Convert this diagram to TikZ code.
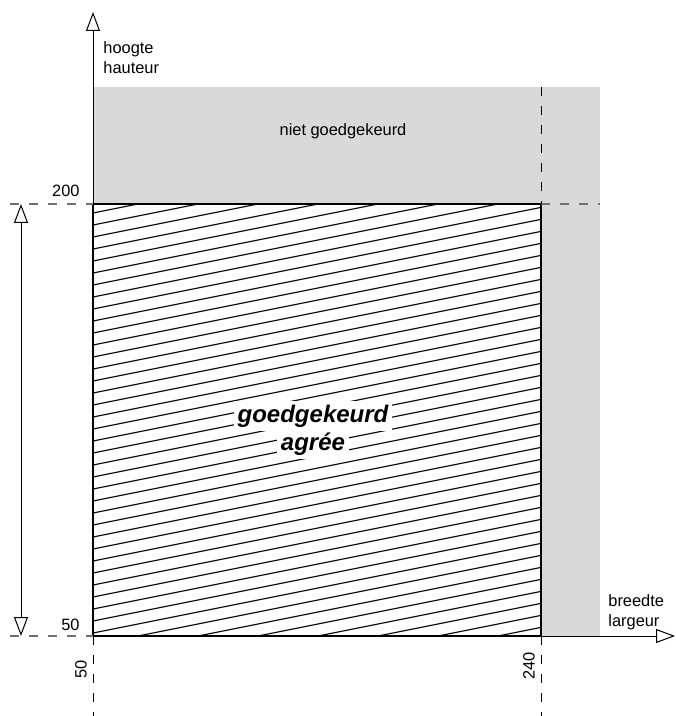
\documentclass[tikz,border=0pt]{standalone}
\usepackage{fontspec}
\setmainfont{Liberation Sans}
\usetikzlibrary{arrows.meta, positioning}
\definecolor{zonegrey}{HTML}{D9D9D9}
\definecolor{guidegrey}{HTML}{707070}

\begin{document}
\begin{tikzpicture}[x=0.5pt, y=-0.5pt,
        axis/.style={draw, line width=0.5pt, -{Triangle[open, length=9.5pt, width=7pt]}},
        dimline/.style={draw, line width=0.5pt, {Triangle[open, length=9.5pt, width=7pt]}-{Triangle[open, length=9.5pt, width=7pt]}},
        guide/.style={draw, line width=0.5pt, dash pattern=on 4.5pt off 5pt},
        greyguide/.style={guide, draw=guidegrey, line width=0.7pt},
        label/.style={inner sep=0pt, font=\fontsize{8.2}{10}\selectfont, align=left},
        approved/.style={fill=white, inner sep=2pt, font=\fontsize{12}{14}\selectfont\bfseries\itshape}]

        \useasboundingbox (0,0) rectangle (675,716);

        % Corners
        \coordinate (origin) at (93,636);
        \coordinate (ytip) at (93,12);
        \coordinate (xtip) at (675,636);
        \coordinate (boxtl) at (93,204);
        \coordinate (boxtr) at (541,204);
        \coordinate (boxbr) at (541,636);
        \coordinate (zonetr) at (600,87);

        % Zones
        \fill [zonegrey] (origin) rectangle (zonetr);
        \fill [white] (origin) rectangle (boxtr);
        \begin{scope}
            \clip (origin) rectangle (boxtr);
            \foreach \k in {0,...,42}
                \draw [line width=0.55pt] (93,213+12*\k) -- ++(448,-89.6);
        \end{scope}
        \draw [line width=1pt] (origin) rectangle (boxtr);

        % Axes
        \path [axis] (origin) -- (ytip);
        \path [axis] (boxbr) -- (xtip);

        % Guide lines
        \coordinate (g200l) at (10,204);
        \coordinate (g200r) at (600,204);
        \coordinate (g50l) at (10,636);
        \coordinate (g240t) at (541,87);
        \coordinate (g240b) at (541,716);
        \coordinate (g50b) at (93,716);
        \path [greyguide] (g200l) -- (boxtl);
        \path [greyguide] (boxtr) -- (g200r);
        \path [greyguide] (g50l) -- (origin);
        \path [guide] (g240t) -- (boxtr);
        \path [guide] (boxbr) -- (g240b);
        \path [guide] (origin) -- (g50b);

        % Dimension
        \coordinate (dimtop) at (21,204);
        \coordinate (dimbot) at (21,636);
        \path [dimline] (dimtop) -- (dimbot);

        % Labels
        \node [label, anchor=north west] (height) at (103,41) {hoogte\\hauteur};
        \node [label, anchor=north west] (width) at (608,594) {breedte\\largeur};
        \node [label, anchor=base east] (y200) at (80,197) {200};
        \node [label, anchor=base east] (y50) at (80,630) {50};
        \node [label, rotate=90] (x50) at (81,669) {50};
        \node [label, rotate=90] (x240) at (529,666) {240};
        \node [label] (rejected) at (343,131) {niet goedgekeurd};
        \node [approved, anchor=base] (approvednl) at (313,422) {goedgekeurd};
        \node [approved, anchor=base] (approvedfr) at (313,450) {agrée};

    \end{tikzpicture}
\end{document}
